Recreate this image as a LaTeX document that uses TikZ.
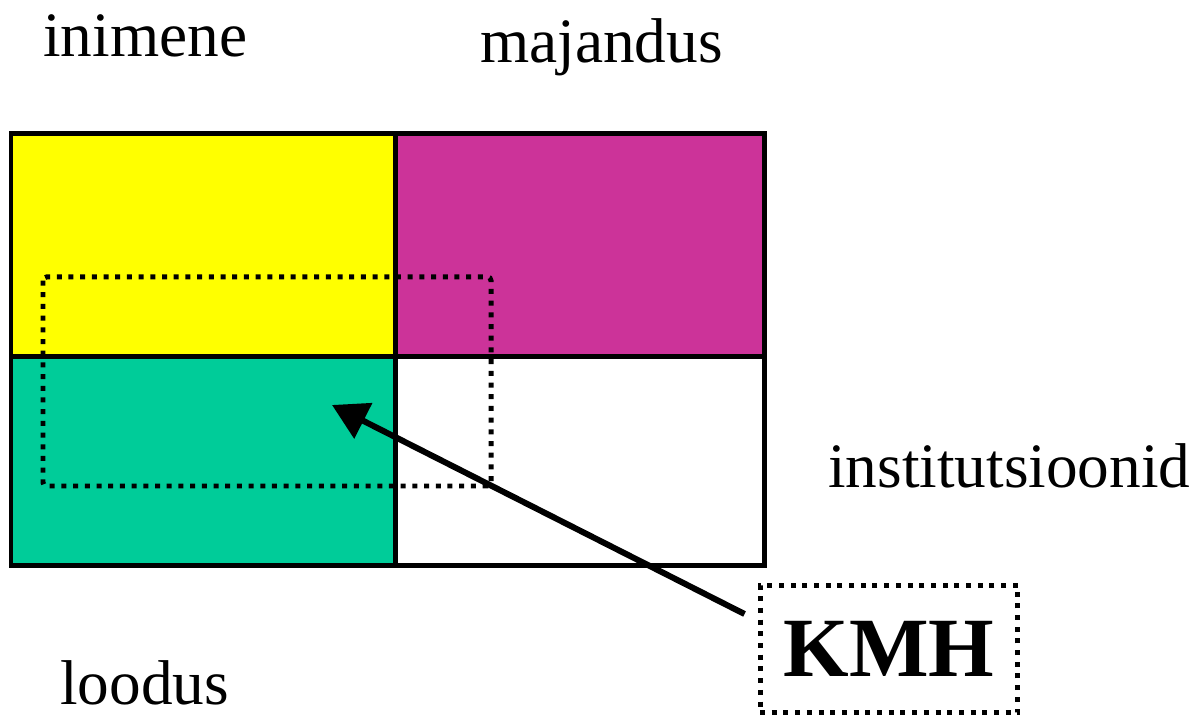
\documentclass[tikz,border=0pt]{standalone}
\usepackage{fontspec}
\setmainfont{Liberation Serif}
\usepackage{xcolor}
\usepackage{tikz}
\usetikzlibrary{positioning,arrows.meta,calc}
\definecolor{CellYellow}{HTML}{FFFF00}
\definecolor{CellMagenta}{HTML}{CC3399}
\definecolor{CellGreen}{HTML}{00CC99}

\tikzset{
  gridline/.style={line width=0.1cm, line join=miter},
  dotline/.style={line width=0.1cm, dash pattern=on 0.1cm off 0.134cm},
  lbl/.style={font=\fontsize{36pt}{40pt}\selectfont, inner sep=0pt, anchor=base west},
}

\begin{document}
\begin{tikzpicture}[x=0.02cm, y=-0.02cm]
  \useasboundingbox (0,0) rectangle (1198,716);
  % cells
  \fill[CellYellow]  (11,134)  rectangle (395,357);
  \fill[CellMagenta] (395,134) rectangle (764,357);
  \fill[CellGreen]   (11,357)  rectangle (395,565);
  \draw[gridline] (11,134) rectangle (764,565);
  \draw[gridline] (395,134) -- (395,565);
  \draw[gridline] (11,357) -- (764,357);
  % dotted region
  \draw[dotline, rounded corners=2pt] (43,277) rectangle (491,486);

  % labels
  \node[lbl] (inimene) at (43,57) {inimene};
  \node[lbl] (majandus) at (480,63) {majandus};
  \node[lbl] (inst) at (828,487) {institutsioonid};
  \node[lbl] (loodus) at (60,704) {loodus};

  \node[draw, dotline, minimum width=5.16cm, minimum height=2.56cm,
        font=\fontsize{48pt}{52pt}\selectfont\bfseries, inner sep=0pt]
        (kmh) at (889,649) {KMH};
  \coordinate (tail) at ($(kmh.west)+(-13,-35)$);
  \coordinate (tip) at (332,405);
  \draw[line width=0.12cm, -{Triangle[length=20pt,width=22pt]}] (tail) -- (tip);
\end{tikzpicture}
\end{document}
